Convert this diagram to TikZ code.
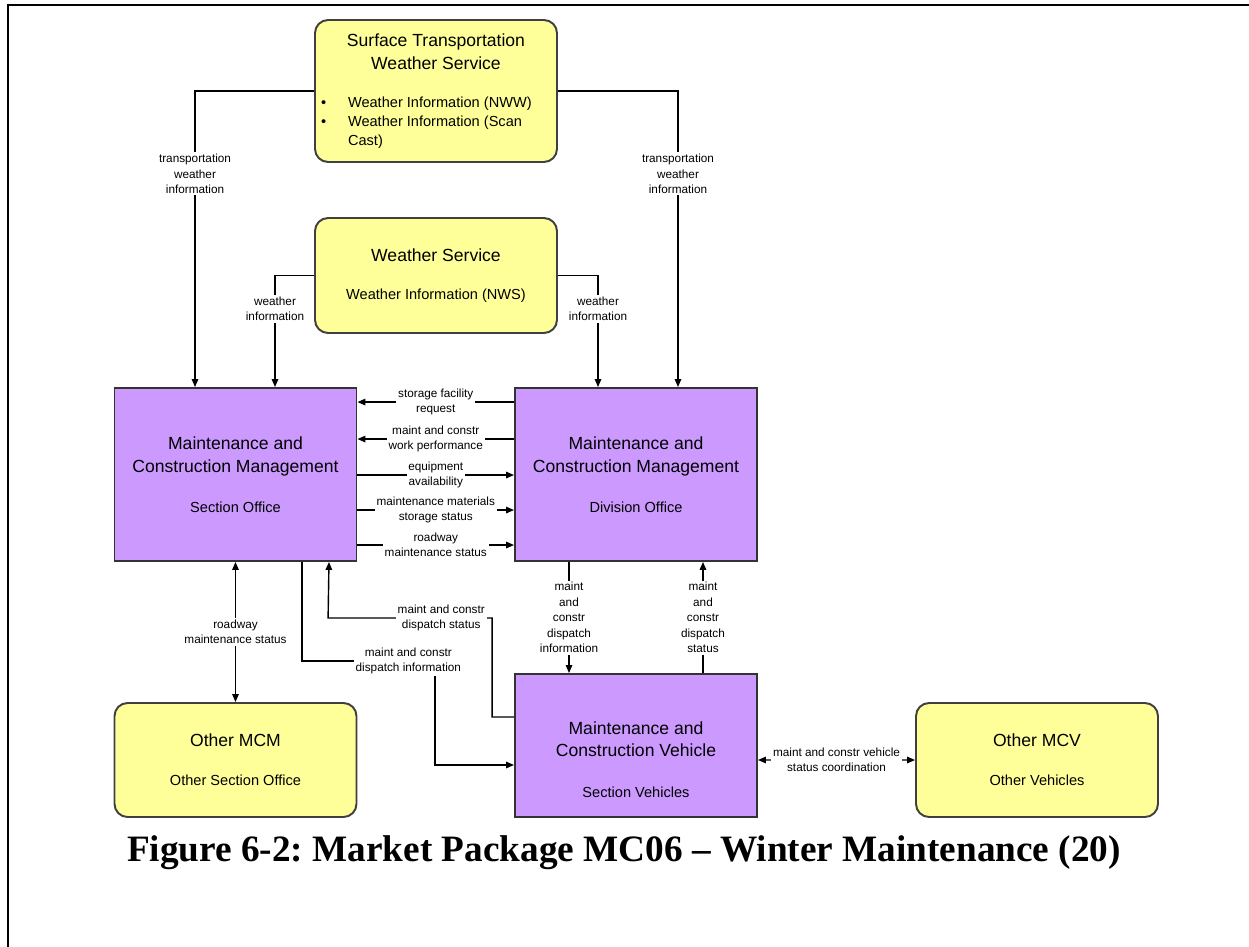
\documentclass[tikz,border=0pt]{standalone}
\usepackage{fontspec}
\setmainfont{Liberation Sans}
\newfontfamily\captionserif{Liberation Serif}
\usepackage{tikz}
\usetikzlibrary{positioning, arrows.meta}

\definecolor{termyellow}{RGB}{255,255,153}
\definecolor{mcpurple}{RGB}{204,153,255}
\newcommand\titlesize{\fontsize{10}{13}\selectfont}
\newcommand\subsize{\fontsize{8.3}{10.8}\selectfont}
\newcommand\flowsize{\fontsize{6.7}{8.8}\selectfont}
\frenchspacing

\begin{document}
\begin{tikzpicture}[
    x=0.02cm, y=-0.02cm,
    >={Triangle[length=1.6mm, width=1.3mm]},
    term/.style={draw=black!75, line width=1.1pt, fill=termyellow, rounded corners=2.6mm, align=center, minimum width=4.84cm, inner sep=0pt, font=\titlesize},
    subsys/.style={draw=black!80, line width=1.1pt, fill=mcpurple, align=center, minimum width=4.84cm, inner sep=0pt, font=\titlesize},
    flow/.style={draw, line width=0.8pt, ->},
    both/.style={draw, line width=0.8pt, <->},
    lbl/.style={fill=white, inner sep=1pt, align=center, font=\flowsize}
  ]
  \useasboundingbox (0,0) rectangle (1249,947);
  \draw[line width=1.3pt] (8,947) -- (8,5) -- (1249,5);

  % terminators
  \node[term, minimum height=2.84cm] (stws) at (436,91) {Surface Transportation\\Weather Service\\[8.5pt]
    \parbox[t]{4.6cm}{\raggedright\subsize
      \makebox[0.54cm][l]{\textbullet}Weather Information (NWW)\\
      \makebox[0.54cm][l]{\textbullet}Weather Information (Scan\\
      \hspace*{0.54cm}Cast)}};
  \node[term, minimum height=2.3cm] (ws) at (436,275.5) {Weather Service\\[9pt]{\subsize Weather Information (NWS)}};
  \node[term, minimum height=2.28cm] (mcm) at (235.5,760) {Other MCM\\[9pt]{\subsize Other Section Office}};
  \node[term, minimum height=2.28cm] (mcv) at (1037,760) {Other MCV\\[9pt]{\subsize Other Vehicles}};

  % subsystems
  \node[subsys, minimum height=3.46cm] (sec) at (235.5,474.5) {Maintenance and\\Construction Management\\[10pt]{\subsize Section Office}};
  \node[subsys, minimum height=3.46cm] (div) at (636,474.5) {Maintenance and\\Construction Management\\[10pt]{\subsize Division Office}};
  \node[subsys, minimum height=2.86cm] (veh) at (636,745.5) {\rule{0pt}{23pt}Maintenance and\\Construction Vehicle\\[10pt]{\subsize Section Vehicles}};

  % weather flows
  \draw[flow] (stws.west) -| node[lbl, pos=0.64] {transportation\\weather\\information} ([xshift=-0.81cm]sec.north);
  \draw[flow] (stws.east) -| node[lbl, pos=0.64] {transportation\\weather\\information} ([xshift=0.84cm]div.north);
  \draw[flow] (ws.west) -| node[lbl, pos=0.65] {weather\\information} ([xshift=0.79cm]sec.north);
  \draw[flow] (ws.east) -| node[lbl, pos=0.65] {weather\\information} ([xshift=-0.76cm]div.north);

  % section <-> division
  \draw[flow] ([yshift=-0.3cm]div.north west) -- node[lbl] {storage facility\\request} ([yshift=-0.3cm]sec.north east);
  \draw[flow] ([yshift=-1.04cm]div.north west) -- node[lbl] {maint and constr\\work performance} ([yshift=-1.04cm]sec.north east);
  \draw[flow] ([yshift=-1.76cm]sec.north east) -- node[lbl] {equipment\\availability} ([yshift=-1.76cm]div.north west);
  \draw[flow] ([yshift=-2.46cm]sec.north east) -- node[lbl] {maintenance materials\\storage status} ([yshift=-2.46cm]div.north west);
  \draw[flow] ([yshift=-3.16cm]sec.north east) -- node[lbl] {roadway\\maintenance status} ([yshift=-3.16cm]div.north west);

  \draw[both] (sec) -- node[lbl] {roadway\\maintenance status} (mcm);

  % dispatch
  \draw[flow] ([xshift=1.33cm]sec.south) -- ++(0cm,-1.98cm) -- node[lbl, pos=0.8] {maint and constr\\dispatch information} ++(2.66cm,0cm) |- ([yshift=-0.39cm]veh.west);
  \draw[flow] ([yshift=0.57cm]veh.west) -- ++(-0.44cm,0cm) -- ++(0cm,1.98cm) -- node[lbl, pos=0.31] {maint and constr\\dispatch status} ++(-3.28cm,0cm) -- ([xshift=1.87cm]sec.south);
  \draw[flow] ([xshift=-1.34cm]div.south) -- node[lbl] {maint\\and\\constr\\dispatch\\information} ([xshift=-1.34cm]veh.north);
  \draw[flow] ([xshift=1.34cm]veh.north) -- node[lbl] {maint\\and\\constr\\dispatch\\status} ([xshift=1.34cm]div.south);

  \draw[both] ([yshift=-0.29cm]veh.east) -- node[lbl] {maint and constr vehicle\\status coordination} (mcv.west);

  \node[font=\captionserif\bfseries\fontsize{21.2}{25}\selectfont] (caption) at (624,853) {Figure 6-2: Market Package MC06 – Winter Maintenance (20)};
\end{tikzpicture}
\end{document}
